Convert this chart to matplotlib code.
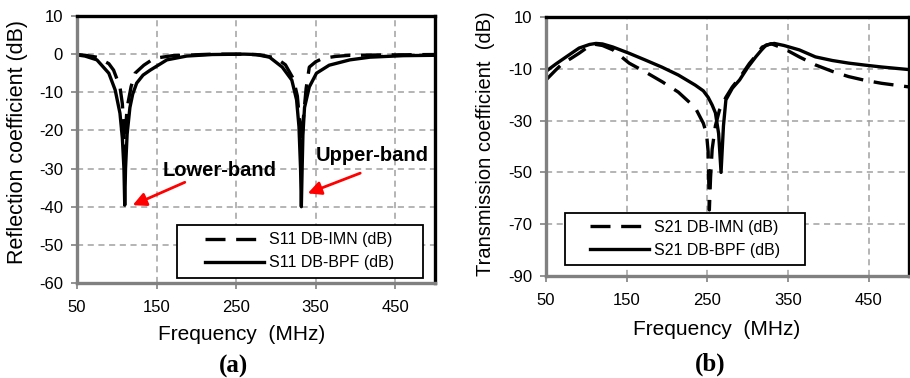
import matplotlib
matplotlib.use("Agg")
import matplotlib.pyplot as plt
from matplotlib.patches import Rectangle

plt.rcParams['font.family'] = ['Liberation Sans', 'DejaVu Sans']
plt.rcParams['axes.unicode_minus'] = False

# --- (a) reflection coefficient, S11 ---
f_s11_bpf = [50, 60, 75, 90, 98, 104, 107, 109, 110, 111, 113, 116.5, 120, 125, 133, 142,
             163, 188, 220, 260, 275, 292, 308, 320, 326, 329, 331, 332, 333, 334, 336,
             342, 351, 367, 393, 418, 460, 500]
s11_bpf = [-0.2, -0.5, -1.5, -5.0, -9.4, -15.5, -22, -30, -39.6, -30, -21, -14, -10.5, -7.6,
           -5.5, -4.2, -1.5, -0.5, -0.1, 0.0, -0.1, -0.8, -3.4, -6.8, -12, -19, -30, -40,
           -30, -21, -14, -8.6, -5.0, -2.9, -1.5, -0.8, -0.4, -0.3]

f_s11_imn = [50, 60, 75, 90, 96, 104, 107, 109, 110, 111, 113, 118, 123, 134, 147, 170, 220,
             260, 280, 300, 312, 322, 327, 330, 332, 334, 338, 342, 350, 359, 375, 393, 440, 500]
s11_imn = [-0.1, -0.3, -0.8, -2.5, -4.2, -8.6, -13, -20, -27, -20, -14, -8.5, -5.0, -2.9, -1.1,
           -0.4, 0.0, 0.0, -0.2, -1.0, -2.8, -6.5, -11, -18, -27, -18, -9, -3.4, -2.0, -1.1,
           -0.6, -0.3, -0.2, -0.1]

# --- (b) transmission coefficient, S21 ---
f_s21_bpf = [50, 62, 75, 91, 104, 112, 120, 133, 153, 173, 194, 214, 235, 245, 251, 256, 260,
             264, 267, 270, 273, 281, 290, 300, 310, 317, 323, 333, 345, 364, 384, 405, 425,
             446, 466, 500]
s21_bpf = [-11, -8.2, -5.4, -2.0, -0.6, -0.2, -0.4, -1.6, -4.0, -6.6, -9.4, -12.4, -16.3,
           -18.5, -21, -24, -27, -35, -50, -32, -22, -17.5, -14.3, -9.5, -5.4, -2.8, -0.8, -0.2,
           -1.0, -2.7, -5.4, -6.8, -7.8, -8.6, -9.3, -10.3]

f_s21_imn = [50, 62, 71, 81, 91, 100, 110, 120, 133, 153, 173, 194, 214, 235, 245, 249, 251,
             252.5, 254, 256, 260, 265, 273, 281, 290, 302, 310, 318, 329, 345, 364, 384, 405,
             425, 446, 466, 500]
s21_imn = [-14.3, -10.5, -7.8, -6.0, -4.0, -2.0, -0.5, -1.0, -2.7, -7.8, -11.2, -15, -19, -25,
           -31, -35, -42, -64.5, -52, -41, -32, -26, -21, -17, -13.5, -8, -5, -1.6, -0.3,
           -2.2, -5.4, -8.5, -11, -13, -14.5, -15.6, -17]

xticks = [50, 150, 250, 350, 450]
yticks_a = [10, 0, -10, -20, -30, -40, -50, -60]
yticks_b = [10, -10, -30, -50, -70, -90]

fig = plt.figure(figsize=(9.1, 3.78), dpi=100)
ax1 = fig.add_axes([77 / 910, 1 - 283 / 378, 358 / 910, 267 / 378])
ax2 = fig.add_axes([546 / 910, 1 - 276 / 378, 363 / 910, 259 / 378])

DASH = (6, 3.2)


def style_axes(ax, yticks):
    ax.set_xlim(50, 500)
    ax.set_ylim(yticks[-1], yticks[0])
    ax.set_xticks(xticks)
    ax.set_yticks(yticks)
    ax.grid(True, color='#a0a0a0', linestyle=(0, (4, 3)), linewidth=1.1)
    ax.set_axisbelow(True)
    for side in ['left', 'bottom']:
        ax.spines[side].set_color('#808080')
        ax.spines[side].set_linewidth(2.4)
    for side in ['top', 'right']:
        ax.spines[side].set_color('black')
        ax.spines[side].set_linewidth(2.4)
    ax.tick_params(direction='out', length=4, width=1.2, color='#808080',
                   labelsize=12, pad=6)
    ax.tick_params(axis='x', pad=8)


def boxed_legend(ax, x0, y0, w, h):
    # legend frame drawn as a plain rectangle so the entries sit centred in it
    ax.add_patch(Rectangle((x0, y0), w, h, transform=ax.transAxes, facecolor='white',
                           edgecolor='black', lw=1.3, zorder=4))
    ax.legend(loc='center', bbox_to_anchor=(x0 + w / 2, y0 + h / 2), fontsize=11.5,
              frameon=False, handlelength=3.7, handletextpad=0.3, labelspacing=0.5,
              borderpad=0, borderaxespad=0)


# --- (a) ---
ax1.plot(f_s11_imn, s11_imn, color='black', lw=2.4, linestyle=(0, DASH),
         label='S11 DB-IMN (dB)')
ax1.plot(f_s11_bpf, s11_bpf, color='black', lw=2.4, label='S11 DB-BPF (dB)')
style_axes(ax1, yticks_a)
boxed_legend(ax1, 0.279, 0.019, 0.687, 0.1985)

ax1.text(229, -30.4, 'Lower-band', fontsize=14.5, fontweight='bold',
         ha='center', va='center')
ax1.text(421, -26.5, 'Upper-band', fontsize=14.5, fontweight='bold',
         ha='center', va='center')
ax1.annotate('', xy=(120, -39.6), xytext=(185.5, -33.6),
             arrowprops=dict(arrowstyle='-|>', color='red', lw=2, mutation_scale=20,
                             shrinkA=0, shrinkB=0))
ax1.annotate('', xy=(340, -36.5), xytext=(406, -31.2),
             arrowprops=dict(arrowstyle='-|>', color='red', lw=2, mutation_scale=20,
                             shrinkA=0, shrinkB=0))

# --- (b) ---
ax2.plot(f_s21_imn, s21_imn, color='black', lw=2.4, linestyle=(0, DASH),
         label='S21 DB-IMN (dB)')
ax2.plot(f_s21_bpf, s21_bpf, color='black', lw=2.4, label='S21 DB-BPF (dB)')
style_axes(ax2, yticks_b)
boxed_legend(ax2, 0.052, 0.0425, 0.661, 0.2008)

# --- labels ---
fig.text(0.0187, 0.624, 'Reflection coefficient (dB)', rotation=90, fontsize=15.5,
         ha='center', va='center')
fig.text(0.533, 0.619, 'Transmission coefficient  (dB)', rotation=90, fontsize=14.5,
         ha='center', va='center')
fig.text(0.2654, 0.1138, 'Frequency  (MHz)', fontsize=15, ha='center', va='center')
fig.text(0.787, 0.127, 'Frequency  (MHz)', fontsize=15, ha='center', va='center')
fig.text(0.257, 0.031, '(a)', fontsize=18, fontweight='bold', family='Liberation Serif',
         ha='center', va='center')
fig.text(0.780, 0.036, '(b)', fontsize=18, fontweight='bold', family='Liberation Serif',
         ha='center', va='center')

fig.savefig('out.png', dpi=100)
